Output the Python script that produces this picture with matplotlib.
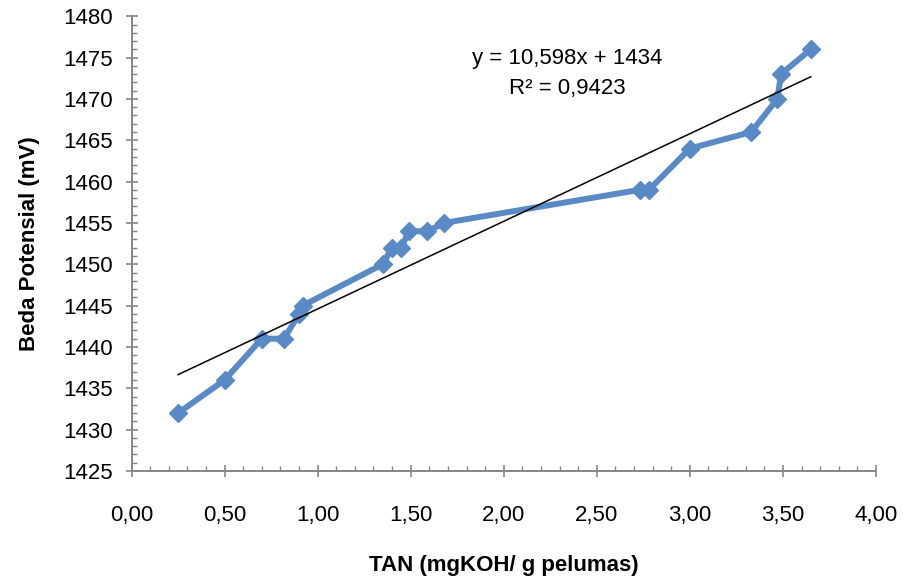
import matplotlib.pyplot as plt
import matplotlib.ticker as mticker
import numpy as np

plt.rcParams['font.family'] = ['Liberation Sans', 'DejaVu Sans']

# TAN (mgKOH/g pelumas) vs beda potensial (mV)
tan = [0.25, 0.50, 0.70, 0.82, 0.90, 0.92, 1.35, 1.40, 1.45, 1.49, 1.59, 1.68,
       2.73, 2.78, 3.00, 3.33, 3.47, 3.49, 3.65]
beda = [1432, 1436, 1441, 1441, 1444, 1445, 1450, 1452, 1452, 1454, 1454, 1455,
        1459, 1459, 1464, 1466, 1470, 1473, 1476]

# linear trendline as reported
slope = 10.598
intercept = 1434
r2 = 0.9423

fig = plt.figure(figsize=(9.04, 5.8), dpi=100)
ax = fig.add_axes([0.1455, 0.188, 0.8235, 0.784])

ax.plot(tan, beda, color='#5A8AC6', lw=4.3, marker='D', ms=9.5,
        mec='#5A8AC6', mfc='#5A8AC6', solid_joinstyle='round', zorder=3)

xt = np.array([min(tan), max(tan)])
ax.plot(xt, slope * xt + intercept, color='black', lw=1.1, zorder=4)

ax.text(2.34, 1474.9, 'y = 10,598x + 1434', fontsize=16, ha='center', va='center')
ax.text(2.34, 1471.2, 'R² = 0,9423', fontsize=16, ha='center', va='center')

ax.set_xlim(0, 4)
ax.set_ylim(1425, 1480)
ax.xaxis.set_major_locator(mticker.MultipleLocator(0.5))
ax.xaxis.set_minor_locator(mticker.MultipleLocator(0.1))
ax.yaxis.set_major_locator(mticker.MultipleLocator(5))
ax.yaxis.set_minor_locator(mticker.MultipleLocator(1))
ax.xaxis.set_major_formatter(mticker.FuncFormatter(lambda v, p: f'{v:.2f}'.replace('.', ',')))

for s in ['top', 'right']:
    ax.spines[s].set_visible(False)
for s in ['left', 'bottom']:
    ax.spines[s].set_color('#868686')
    ax.spines[s].set_linewidth(1.4)

ax.tick_params(axis='both', which='major', direction='inout', length=8.5,
               width=1.2, color='#868686', labelsize=16)
ax.tick_params(axis='both', which='minor', direction='in', length=3.5,
               width=1.0, color='#868686')
ax.tick_params(axis='x', which='major', pad=20)
ax.tick_params(axis='y', which='major', pad=9)

ax.set_xlabel('TAN (mgKOH/ g pelumas)', fontsize=16, fontweight='bold', labelpad=21)
ax.set_ylabel('Beda Potensial (mV)', fontsize=16, fontweight='bold', labelpad=17)

fig.savefig('out.png', dpi=100)
